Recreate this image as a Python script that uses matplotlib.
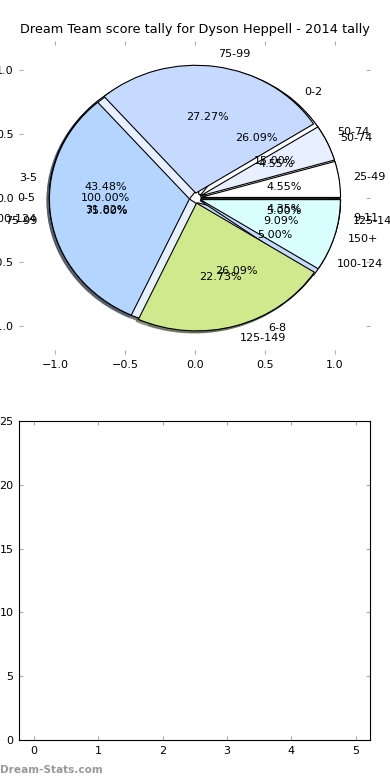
import numpy as np
import matplotlib
matplotlib.use('Agg')
from matplotlib import pyplot as plt

# score tallies, one pie per grouping (all drawn on the same axes)
labels_a = ['0-5']
counts_a = [1]
labels_b = ['0-2', '3-5', '6-8', '9-11']
counts_b = [6, 10, 6, 1]
labels_c = ['50-74', '75-99', '100-124', '125-149']
counts_c = [3, 15, 1, 1]
labels_d = ['25-49', '50-74', '75-99', '100-124', '125-149', '150+']
counts_d = [1, 1, 6, 7, 5, 2]

bar_x = [0, 1, 2, 3, 4, 5]
bar_h = [0, 0, 0, 0, 0, 0]

colorlist = ['#ffffff', '#e8f0ff', '#c6daff', '#b3d5ff', '#d0e98c', '#d9ffff']

fig = plt.figure(figsize=(3.9, 7.8), dpi=100)
ax1 = fig.add_axes([0.0487, 0.546, 0.9, 0.401])
ax2 = fig.add_axes([0.0487, 0.0513, 0.9, 0.409])

for labs, vals in [(labels_a, counts_a), (labels_b, counts_b),
                   (labels_c, counts_c), (labels_d, counts_d)]:
    ax1.pie(vals, labels=labs, colors=colorlist[:len(vals)],
            explode=[0.04] * len(vals), autopct='%1.2f%%',
            shadow={'ox': -0.012, 'oy': -0.012, 'shade': 0.6},
            frame=True, textprops={'fontsize': 8},
            wedgeprops={'linewidth': 0.8, 'edgecolor': 'k'})

ax1.set_aspect('auto')
ax1.set_xlim(-1.257, 1.25)
ax1.set_ylim(-1.22, 1.227)
ax1.set_xticks([-1.0, -0.5, 0.0, 0.5, 1.0])
ax1.set_yticks([-1.0, -0.5, 0.0, 0.5, 1.0])
for s in ax1.spines.values():
    s.set_visible(False)

ax2.bar(bar_x, bar_h, width=0.8, color='#b3d5ff')
ax2.set_xlim(-0.23, 5.22)
ax2.set_ylim(0, 25)
ax2.set_xticks(bar_x)
ax2.set_yticks([0, 5, 10, 15, 20, 25])

for ax in (ax1, ax2):
    ax.tick_params(direction='in', top=True, right=True, length=3,
                   color='#aaaaaa', labelsize=8, pad=4)

fig.text(0.5, 0.962, 'Dream Team score tally for Dyson Heppell - 2014 tally',
         ha='center', va='center', fontsize=9.3)
fig.text(0.0, 0.013, 'Dream-Stats.com', ha='left', va='center',
         fontsize=7.6, color='#999999', fontweight='bold')

plt.savefig('out.png', dpi=100)
plt.close()
